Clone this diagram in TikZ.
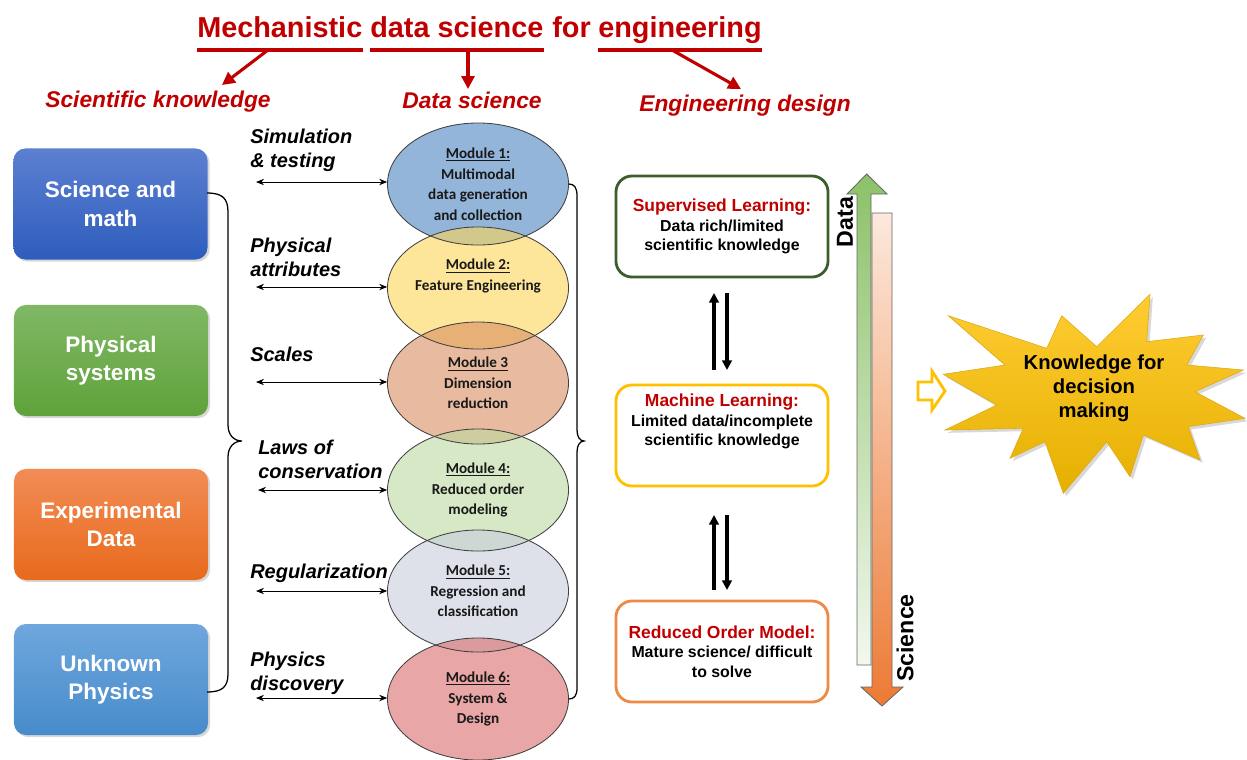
\documentclass[tikz,border=0pt]{standalone}
\usepackage{fontspec}
\setmainfont{Liberation Sans}
\newfontfamily\calfont{Carlito}
\usetikzlibrary{arrows.meta,shadows,shapes.geometric}
\definecolor{dred}{HTML}{C00000}
\definecolor{gold}{HTML}{FFC000}
\definecolor{dgreen}{HTML}{3B5E2B}
\definecolor{orng}{HTML}{ED7D31}
\definecolor{sciT}{RGB}{92,128,209}
\definecolor{sciB}{RGB}{46,93,189}
\definecolor{phyT}{RGB}{128,184,101}
\definecolor{phyB}{RGB}{95,162,58}
\definecolor{expT}{RGB}{242,140,85}
\definecolor{expB}{RGB}{232,106,28}
\definecolor{unkT}{RGB}{111,167,221}
\definecolor{unkB}{RGB}{71,139,203}
\definecolor{mA}{RGB}{75,133,193}
\definecolor{mB}{RGB}{252,213,88}
\definecolor{mC}{RGB}{217,142,97}
\definecolor{mD}{RGB}{187,217,160}
\definecolor{mE}{RGB}{200,205,220}
\definecolor{mF}{RGB}{218,107,107}
\definecolor{grT}{RGB}{140,193,104}
\definecolor{grB}{RGB}{242,248,238}
\definecolor{orT}{RGB}{252,233,221}
\definecolor{orB}{RGB}{236,122,52}
\definecolor{stT}{RGB}{255,204,51}
\definecolor{stB}{RGB}{230,176,0}
\definecolor{stE}{RGB}{220,170,20}
\begin{document}
\begin{tikzpicture}[x=0.025cm,y=-0.025cm,
  lbox/.style={rectangle, rounded corners=0.3cm, minimum width=4.85cm, minimum height=2.775cm,
    text=white, font=\fontsize{16}{20}\selectfont\bfseries, align=center,
    drop shadow={opacity=0.3,shadow xshift=1.5pt,shadow yshift=-1.5pt}},
  modfill/.style={ellipse, minimum width=4.525cm, minimum height=3.05cm, inner sep=0pt,
    fill opacity=0.6, text opacity=1, text=black!90, font=\calfont\bfseries\fontsize{10.8}{14.6}\selectfont, align=center},
  modline/.style={ellipse, minimum width=4.525cm, minimum height=3.05cm, inner sep=0pt,
    draw=black!75, line width=0.6pt},
  lbl/.style={font=\fontsize{14.2}{17}\selectfont\bfseries\itshape, align=left, inner sep=0pt, anchor=west},
  dbl/.style={{Stealth[length=2mm,width=1.6mm]}-{Stealth[length=2mm,width=1.6mm]}, line width=0.6pt},
  rbox/.style={rectangle, rounded corners=0.4cm, minimum width=5.3cm, minimum height=2.525cm,
    line width=2pt, fill=white, align=center, font=\fontsize{11.3}{13.9}\selectfont\bfseries},
  redarr/.style={draw=dred, line width=2.2pt, -{Triangle[length=3.2mm,width=3.2mm]}},
  tword/.style={anchor=base west, inner sep=0pt, text=dred, font=\fontsize{20.5}{24}\selectfont\bfseries},
  sub/.style={text=dred, font=\fontsize{16.2}{18}\selectfont\bfseries\itshape, inner sep=0pt},
  bkarr/.style={line width=2.2pt, -{Triangle[length=2.4mm,width=2.4mm]}},
  brc/.style={line width=0.9pt, black}
]
\fill[white] (0,0) rectangle (1247,759);
\useasboundingbox (0,0) rectangle (1247,759);

% ---------- title ----------
\node[tword] (w1) at (197,37) {Mechanistic};
\node[tword] (w2) at (370,37) {data science};
\node[tword] (w3) at (552,37) {for};
\node[tword] (w4) at (598,37) {engineering};
\foreach \w in {w1,w2,w4}{
  \fill[dred] (\w.west |- 0,48) rectangle (\w.east |- 0,52);
}
\node[sub] (sk) at (158,102) {Scientific knowledge};
\node[sub] (ds) at (472,100) {Data science};
\node[sub] (ed) at (745,106) {Engineering design};
\coordinate (u1) at (268,50);
\coordinate (u2) at (468,50);
\coordinate (u3) at (672,50);
\coordinate (e1) at (222,85);
\coordinate (e2) at (468,89);
\coordinate (e3) at (741,89);
\draw[redarr] (u1) -- (e1);
\draw[redarr] (u2) -- (e2);
\draw[redarr] (u3) -- (e3);

% ---------- left boxes ----------
\node[lbox, top color=sciT, bottom color=sciB] (sci) at (110.5,204) {Science and\\math};
\node[lbox, top color=phyT, bottom color=phyB] (phy) at (111,360.5) {Physical\\systems};
\node[lbox, top color=expT, bottom color=expB] (exp) at (111,524.5) {Experimental\\Data};
\node[lbox, top color=unkT, bottom color=unkB] (unk) at (111,679.5) {Unknown\\Physics};

% left brace
\draw[brc] (207,193) .. controls (222,193) and (228,198) .. (228,212) -- (228,425)
  .. controls (228,435) and (234,441) .. (242,441)
  .. controls (234,441) and (228,447) .. (228,457) -- (228,674)
  .. controls (228,687) and (222,692) .. (207,692);

% ---------- modules ----------
\node[modfill, fill=mA] (m1) at (478,184) {\underline{Module 1:}\\Multimodal\\data generation\\and collection};
\node[modfill, fill=mB] (m2) at (478,288) {\underline{Module 2:}\\Feature Engineering\\[4pt]};
\node[modfill, fill=mC] (m3) at (478,383) {\underline{Module 3}\\Dimension\\reduction};
\node[modfill, fill=mD] (m4) at (478,490) {\underline{Module 4:}\\Reduced order\\modeling};
\node[modfill, fill=mE] (m5) at (478,591) {\underline{Module 5:}\\Regression and\\classification};
\node[modfill, fill=mF] (m6) at (478,699) {\underline{Module 6:}\\System \&\\Design};
\foreach \m in {m1,m2,m3,m4,m5,m6}{
  \node[modline] at (\m) {};
}

% right brace
\draw[brc] (m1.east) .. controls (574,184) and (577,187) .. (577,196) -- (577,430)
  .. controls (577,437) and (580,441) .. (584,441)
  .. controls (580,441) and (577,445) .. (577,452) -- (577,688)
  .. controls (577,696) and (574,699) .. (m6.east);

% labels
\node[lbl] (l1) at (250,150) {Simulation\\\& testing};
\node[lbl] (l2) at (250,257) {Physical\\attributes};
\node[lbl] (l3) at (250,354) {Scales};
\node[lbl] (l4) at (258,459) {Laws of\\conservation};
\node[lbl] (l5) at (250,573) {Regularization};
\node[lbl] (l6) at (250,673) {Physics\\discovery};

\coordinate (s1) at (256,182);
\coordinate (s2) at (256,287);
\coordinate (s3) at (256,382);
\coordinate (s4) at (258,490);
\coordinate (s5) at (256,591);
\coordinate (s6) at (256,698);
\draw[dbl] (s1) -- (s1 -| m1.west);
\draw[dbl] (s2) -- (s2 -| m2.west);
\draw[dbl] (s3) -- (s3 -| m3.west);
\draw[dbl] (s4) -- (s4 -| m4.west);
\draw[dbl] (s5) -- (s5 -| m5.west);
\draw[dbl] (s6) -- (s6 -| m6.west);

% ---------- right boxes ----------
\node[rbox, draw=dgreen] (sl) at (722,226.5) {{\color{dred}\fontsize{12.4}{13.9}\selectfont Supervised Learning:}\\Data rich/limited\\scientific knowledge};
\node[rbox, draw=gold] (ml) at (722,435.5) {{\color{dred}\fontsize{12.4}{13.9}\selectfont Machine Learning:}\\Limited data/incomplete\\scientific knowledge\\[8pt]};
\node[rbox, draw=orng!90!white] (rom) at (722,651.5) {{\color{dred}\fontsize{12.4}{13.9}\selectfont Reduced Order Model:}\\Mature science/ difficult\\to solve};

\coordinate (p1a) at (714,370);
\coordinate (p1b) at (714,293);
\coordinate (p1c) at (727,293);
\coordinate (p1d) at (727,370);
\coordinate (p2a) at (714,590);
\coordinate (p2b) at (714,515);
\coordinate (p2c) at (727,515);
\coordinate (p2d) at (727,590);
\draw[bkarr] (p1a) -- (p1b);
\draw[bkarr] (p1c) -- (p1d);
\draw[bkarr] (p2a) -- (p2b);
\draw[bkarr] (p2c) -- (p2d);

% ---------- data / science bars ----------
\path[top color=grT, bottom color=grB, draw=black!60, line width=0.6pt]
  (866.7,174) -- (887,194) -- (871,194) -- (871,665) -- (857,665) -- (857,194) -- (847,194) -- cycle;
\path[top color=orT, bottom color=orB, draw=black!60, line width=0.6pt]
  (872,213) -- (892,213) -- (892,687) -- (903,687) -- (882,706) -- (861,687) -- (872,687) -- cycle;
\node[rotate=90, font=\fontsize{16.5}{20}\selectfont\bfseries] (dlab) at (845,222) {Data};
\node[rotate=90, font=\fontsize{16.5}{20}\selectfont\bfseries] (slab) at (905,638) {Science};

% ---------- hollow arrow ----------
\draw[gold, line width=2pt, fill=white, line join=miter]
  (918,382) -- (932,382) -- (932,371) -- (945,391) -- (932,410) -- (932,400) -- (918,400) -- cycle;

% ---------- star ----------
\path[top color=stT, bottom color=stB, draw=stE, line width=0.4pt,
  drop shadow={opacity=0.3,shadow xshift=2pt,shadow yshift=-2pt}]
  (948.3,315.7) -- (1046.7,348.3) -- (1061.7,315.7) -- (1096.7,346.7) -- (1150,294.3)
  -- (1146.7,341.7) -- (1203.3,335) -- (1186.7,365) -- (1243.3,370) -- (1195,391.7)
  -- (1245,418.3) -- (1188.3,426.7) -- (1200,460) -- (1143.3,435) -- (1130,476.7)
  -- (1106.7,441.7) -- (1063.3,493.3) -- (1045,441.7) -- (1010,458.3) -- (1023.3,428.3)
  -- (945,430) -- (996.7,405) -- (943.3,374.3) -- (1005,365) -- cycle;
\node[font=\fontsize{14.4}{17}\selectfont\bfseries, align=center] (kdm) at (1094,388) {Knowledge for\\decision\\making};
\end{tikzpicture}
\end{document}
